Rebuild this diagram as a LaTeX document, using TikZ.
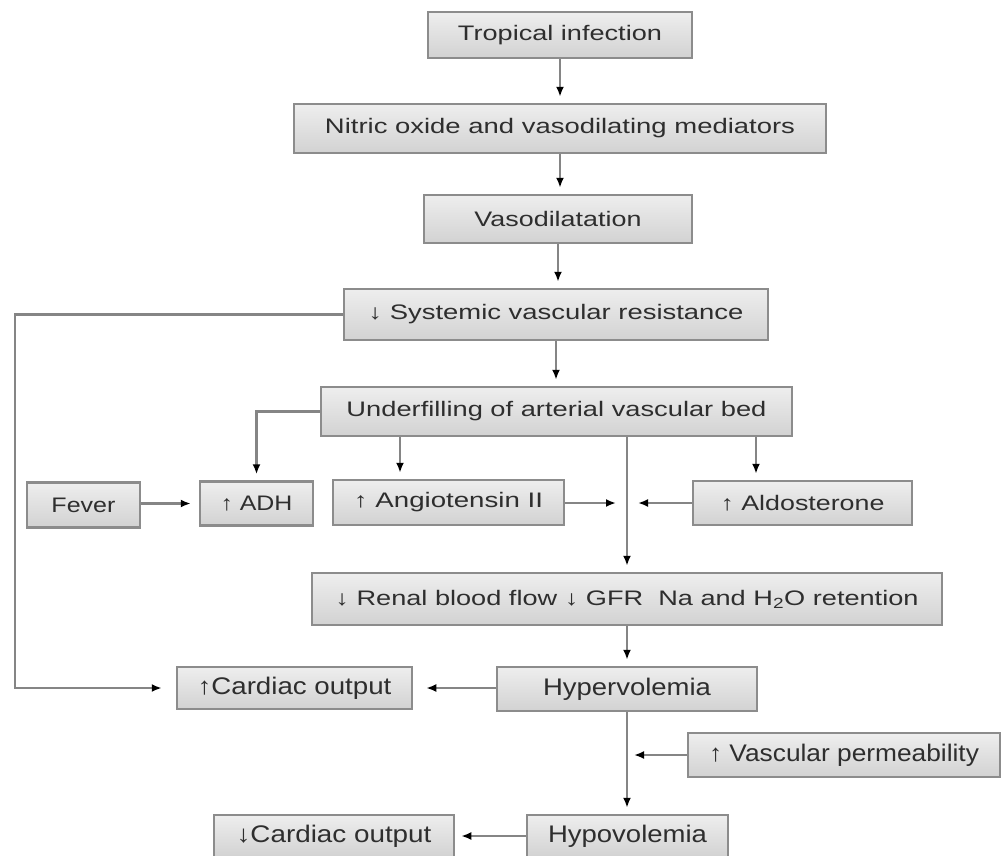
\documentclass[tikz,border=0pt]{standalone}
\usepackage{fontspec}
\setmainfont{Liberation Sans}
\usetikzlibrary{arrows.meta,calc}
\definecolor{boxline}{HTML}{8C8C8C}
\definecolor{conn}{HTML}{858585}
\definecolor{txt}{HTML}{2E2E2E}
\definecolor{boxtop}{HTML}{EEEEEE}
\definecolor{boxbot}{HTML}{D2D2D2}
\newcommand{\fw}[2]{\resizebox{#1pt}{\height}{#2}}
\tikzset{
  box/.style={draw=boxline, line width=2.5pt, top color=boxtop, bottom color=boxbot,
    inner sep=0pt, text=txt, font=\fontsize{21}{24}\selectfont},
  lowbox/.style={box, font=\fontsize{24}{27}\selectfont},
  arr/.style={draw=conn, line width=2.2pt, shorten >=6pt,
    -{Latex[length=10pt,width=8pt,color=black]}}
}
\begin{document}
\begin{tikzpicture}[x=1pt,y=-1pt]
\useasboundingbox (0,0) rectangle (1002,855);
\node[box, minimum width=264pt, minimum height=46pt] (trop) at (560,35) {\fw{204}{Tropical infection}};
\node[box, minimum width=532pt, minimum height=49pt] (nitric) at (560,128.5) {\fw{470}{Nitric oxide and vasodilating mediators}};
\node[box, minimum width=268pt, minimum height=48pt] (vaso) at (558,219) {\fw{167}{Vasodilatation}};
\node[box, minimum width=424pt, minimum height=51pt] (sys) at (556,314.5) {\fw{375}{↓ Systemic vascular resistance}};
\node[box, minimum width=471pt, minimum height=49pt] (under) at (556.5,411.5) {\fw{420}{Underfilling of arterial vascular bed}};
\node[box, minimum width=113pt, minimum height=45pt] (fever) at (83.5,505) {\fw{64}{Fever}};
\node[box, minimum width=113pt, minimum height=44pt] (adh) at (256.5,503.5) {\fw{72}{↑ ADH}};
\node[box, minimum width=231pt, minimum height=45pt] (angio) at (448.5,502.5) {\fw{189}{↑ Angiotensin II}};
\node[box, minimum width=219pt, minimum height=44pt] (aldo) at (802.5,503) {\fw{164}{↑ Aldosterone}};
\node[box, minimum width=630pt, minimum height=52pt] (renal) at (627,599) {\fw{583}{↓ Renal blood flow ↓ GFR\ \ Na and H\textsubscript{2}O retention}};
\node[lowbox, minimum width=235pt, minimum height=42pt] (cardup) at (294.5,688) {\fw{194}{↑Cardiac output}};
\node[lowbox, minimum width=260pt, minimum height=44pt] (hyper) at (627,689) {\fw{168}{Hypervolemia}};
\node[lowbox, minimum width=312pt, minimum height=44pt] (vasc) at (844,755) {\fw{270}{↑ Vascular permeability}};
\node[lowbox, minimum width=240pt, minimum height=42pt] (carddown) at (334,836) {\fw{195}{↓Cardiac output}};
\node[lowbox, minimum width=201pt, minimum height=42pt] (hypo) at (627.5,836) {\fw{159}{Hypovolemia}};
% helper coordinates
\coordinate (xa) at (400,0);
\coordinate (xd) at (756,0);
\coordinate (lc1) at (15,314.5);
\coordinate (lc2) at (15,688);
\coordinate (ja) at (616,503);
\coordinate (jd) at (638,503);
\coordinate (jv) at (634,755);
% connectors
\draw[arr] (trop.south) -- (trop.south |- nitric.north);
\draw[arr] (nitric.south) -- (nitric.south |- vaso.north);
\draw[arr] (vaso.south) -- (vaso.south |- sys.north);
\draw[arr] (sys.south) -- (sys.south |- under.north);
\draw[arr, shorten >=14pt] (sys.west) -- (lc1) -- (lc2) -- (cardup.west);
\draw[arr] (under.west) -| (adh.north);
\draw[arr] (under.south -| xa) -- (angio.north -| xa);
\draw[arr] (under.south -| renal) -- (renal.north);
\draw[arr] (under.south -| xd) -- (aldo.north -| xd);
\draw[arr, shorten >=0pt] (angio.east |- ja) -- (ja);
\draw[arr, shorten >=0pt] (aldo.west |- jd) -- (jd);
\draw[arr, shorten >=8pt] (fever.east |- adh.west) -- (adh.west);
\draw[arr] (renal.south) -- (hyper.north);
\draw[arr, shorten >=13pt] (hyper.west |- cardup.east) -- (cardup.east);
\draw[arr] (hyper.south) -- (hyper.south |- hypo.north);
\draw[arr, shorten >=0pt] (vasc.west) -- (jv);
\draw[arr] (hypo.west) -- (carddown.east);
\end{tikzpicture}
\end{document}
